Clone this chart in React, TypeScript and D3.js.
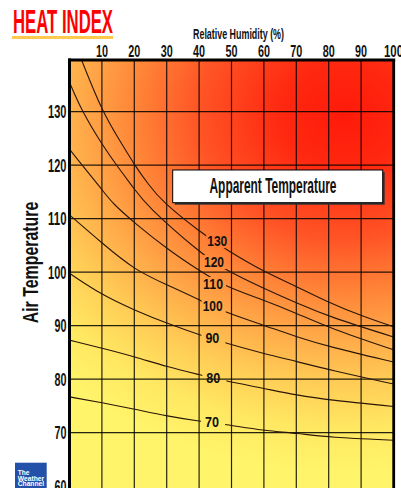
import * as d3 from 'd3';

// chart values
const humidityTicks = [10, 20, 30, 40, 50, 60, 70, 80, 90, 100];
const tempTicks = [60, 70, 80, 90, 100, 110, 120, 130];
const gridTemps = [70, 80, 90, 100, 110, 120, 130];
const contourLevels = [130, 120, 110, 100, 90, 80, 70];

// [relative humidity %, air temperature] along each apparent temperature curve
const curve130 = [[3.7, 139.7], [10.1, 130], [15.7, 124.4], [20.1, 120.0], [24.5, 116.3], [28.6, 113.2], [40.3, 107.5], [48.6, 104.1], [59.9, 100.1], [70.2, 97.3], [80.5, 94.2], [90.7, 91.7], [100, 89.8]];
const curve120 = [[0, 135.5], [3.9, 130], [10.1, 123.8], [15.2, 119.4], [19.9, 115.7], [23.5, 112.6], [40.3, 103.6], [48.1, 100.4], [59.9, 97.0], [70.2, 94.2], [80.5, 91.6], [100, 87.9]];
const curve110 = [[0, 123], [3.9, 120], [10.1, 115.4], [13.2, 112.9], [20.1, 109.2], [30.2, 104.3], [40.3, 100.2], [48.1, 97.3], [59.9, 94.8], [70.2, 92.3], [80.5, 89.5], [100, 85.5]];
const curve100 = [[0, 110.7], [10.1, 105.4], [20.1, 100.4], [30.2, 97.6], [40.3, 94.8], [47.5, 92.6], [59.9, 90.1], [70.2, 87.9], [80.5, 86.0], [100, 83.2]];
const curve90 = [[0, 99.8], [10.1, 95.7], [20.1, 92.9], [30.2, 90.4], [41.9, 87.9], [48.6, 86.7], [59.9, 84.8], [70.2, 83.3], [80.5, 81.7], [100, 79.1]];
const curve80 = [[0, 87.3], [10.1, 85.8], [20.1, 84.2], [30.2, 82.3], [40.4, 80.8], [47.8, 79.7], [59.9, 78.3], [70.2, 77.0], [80.5, 76.1], [100, 74.9]];
const curve70 = [[0, 76.7], [10.1, 75.6], [20.1, 74.4], [30.2, 73.1], [40.4, 72.1], [47.8, 71.6], [59.9, 70.4], [70.2, 69.9], [80.5, 69.1], [100, 68.6]];
const curves = [curve130, curve120, curve110, curve100, curve90, curve80, curve70];

// where each curve label sits
const labelHumidity = [45.6, 44.6, 44.3, 44.2, 44.1, 44.4, 44.0];
const labelTemp = [105.8, 101.9, 97.8, 93.7, 87.7, 80.2, 72.0];

const W = 401;
const H = 488;
const plotTop = 60;
const font = '"Liberation Sans", Arial, sans-serif';

export default function App() {
  const x = d3.scaleLinear().domain([0, 100]).range([69.5, 393.5]);
  const y = d3.scaleLinear().domain([60, 140]).range([486.2, 58.2]);

  const line = d3
    .line<number[]>()
    .x((d) => x(d[0]))
    .y((d) => y(d[1]))
    .curve(d3.curveBasis);

  return (
    <div style={{ position: 'absolute', left: 0, top: 0 }}>
      <svg width={W} height={H} style={{ display: 'block', background: '#fff' }}>
        <defs>
          <radialGradient
            id="heat-bg"
            gradientUnits="userSpaceOnUse"
            cx={345}
            cy={115}
            r={420}
            gradientTransform="translate(345,115) scale(1,0.85) translate(-345,-115)"
          >
            <stop offset="0" stopColor="#ff1a0a" />
            <stop offset="0.15" stopColor="#ff2810" />
            <stop offset="0.35" stopColor="#ff5526" />
            <stop offset="0.5" stopColor="#ff8538" />
            <stop offset="0.62" stopColor="#ffa848" />
            <stop offset="0.75" stopColor="#ffcc55" />
            <stop offset="0.88" stopColor="#ffe862" />
            <stop offset="1" stopColor="#fff46a" />
          </radialGradient>
          <clipPath id="plot-clip">
            <rect x={x(0)} y={plotTop} width={x(100) - x(0)} height={H - plotTop} />
          </clipPath>
          <mask id="label-gaps" maskUnits="userSpaceOnUse" x={0} y={0} width={W} height={H}>
            <rect x={0} y={0} width={W} height={H} fill="#fff" />
            {contourLevels.map((lvl, i) => (
              <rect
                key={lvl}
                x={x(labelHumidity[i]) - 11}
                y={y(labelTemp[i]) - 7}
                width={24}
                height={14}
                fill="#000"
              />
            ))}
          </mask>
        </defs>

        {/* title */}
        <text x={13} y={33} fontFamily={font} fontWeight="bold" fontSize={33} fill="#ff0000"
          textLength={100} lengthAdjust="spacingAndGlyphs">HEAT INDEX</text>
        <rect x={12} y={36} width={101} height={3} fill="#ffc94d" />

        {/* plot background */}
        <rect x={x(0)} y={plotTop} width={x(100) - x(0)} height={H - plotTop} fill="url(#heat-bg)" />

        {/* grid */}
        {humidityTicks.filter((h) => h < 100).map((h) => (
          <line key={h} x1={x(h)} x2={x(h)} y1={plotTop} y2={H} stroke="#000" strokeOpacity={0.85} strokeWidth={1.2} />
        ))}
        {gridTemps.map((t) => (
          <line key={t} x1={x(0)} x2={x(100)} y1={y(t)} y2={y(t)} stroke="#000" strokeOpacity={0.85} strokeWidth={1.2} />
        ))}

        {/* apparent temperature curves */}
        <g clipPath="url(#plot-clip)">
          <g mask="url(#label-gaps)">
            {curves.map((c, i) => (
              <path key={contourLevels[i]} d={line(c) ?? ''} fill="none" stroke="#2a1608" strokeWidth={1.1} />
            ))}
          </g>
        </g>
        {contourLevels.map((lvl, i) => (
          <text key={lvl} x={x(labelHumidity[i])} y={y(labelTemp[i]) + 5} textAnchor="middle"
            fontFamily={font} fontWeight="bold" fontSize={14} fill="#111"
            textLength={lvl >= 100 ? 20 : 14} lengthAdjust="spacingAndGlyphs">{lvl}</text>
        ))}

        {/* frame */}
        <line x1={x(0)} x2={x(0)} y1={plotTop - 1.5} y2={H} stroke="#000" strokeWidth={3} />
        <line x1={x(0) - 1.5} x2={x(100) + 1.7} y1={plotTop} y2={plotTop} stroke="#000" strokeWidth={3} />
        <line x1={x(100) + 0.2} x2={x(100) + 0.2} y1={plotTop} y2={H} stroke="#000" strokeWidth={2.8} />

        {/* legend box */}
        <rect x={174.7} y={172} width={210} height={32.7} fill="#333" />
        <rect x={172.7} y={170} width={210} height={32.7} fill="#fff" stroke="#000" strokeWidth={1} />
        <text x={273} y={192.5} textAnchor="middle" fontFamily={font} fontWeight="bold" fontSize={22} fill="#111"
          textLength={127} lengthAdjust="spacingAndGlyphs">Apparent Temperature</text>

        {/* top axis */}
        <text x={238.5} y={38.5} textAnchor="middle" fontFamily={font} fontWeight="bold" fontSize={14} fill="#111"
          textLength={91} lengthAdjust="spacingAndGlyphs">Relative Humidity (%)</text>
        {humidityTicks.map((h) => (
          <text key={h} x={x(h)} y={56.7} textAnchor="middle" fontFamily={font} fontWeight="bold" fontSize={16}
            fill="#111" textLength={h >= 100 ? 19 : 12} lengthAdjust="spacingAndGlyphs">{h}</text>
        ))}

        {/* left axis */}
        {tempTicks.map((t) => (
          <text key={t} x={66.5} y={y(t) + 6.6} textAnchor="end" fontFamily={font} fontWeight="bold" fontSize={18}
            fill="#111" textLength={t >= 100 ? 18.4 : 12} lengthAdjust="spacingAndGlyphs">{t}</text>
        ))}
        <text transform={`translate(37.5,262.5) rotate(-90)`} textAnchor="middle" fontFamily={font}
          fontWeight="bold" fontSize={22} fill="#111" textLength={121.6}
          lengthAdjust="spacingAndGlyphs">Air Temperature</text>

        {/* logo */}
        <rect x={15} y={462.7} width={31.7} height={26} fill="#2350a8" />
        {['The', 'Weather', 'Channel'].map((w, i) => (
          <text key={w} x={17.7} y={475 + i * 5.5} fontFamily={font} fontWeight="bold" fontSize={6.5} fill="#fff"
            textLength={w === 'The' ? 11.7 : 26.5} lengthAdjust="spacingAndGlyphs">{w}</text>
        ))}
      </svg>
    </div>
  );
}
